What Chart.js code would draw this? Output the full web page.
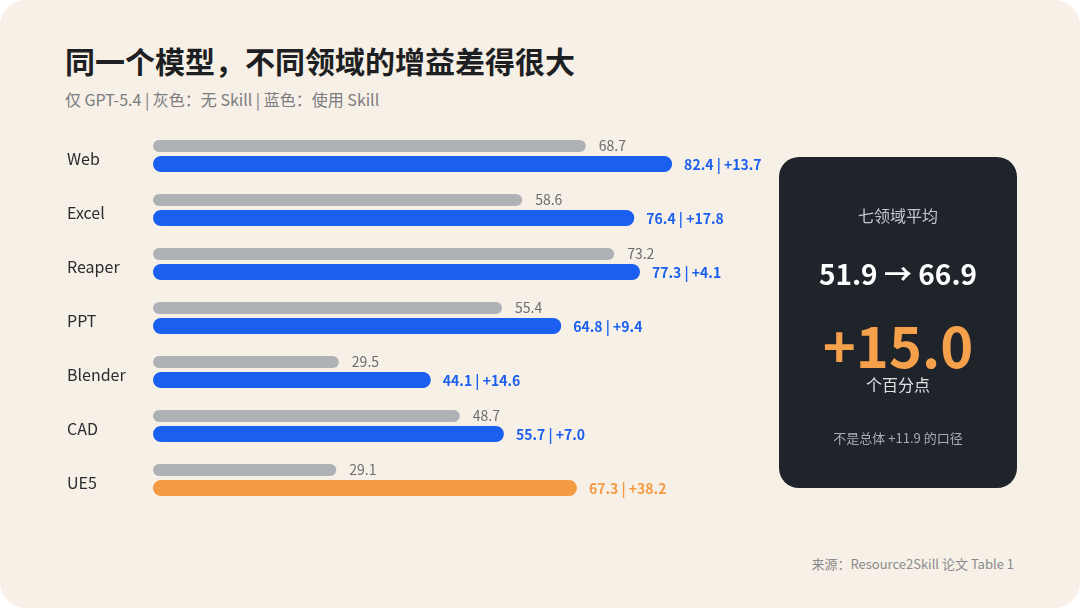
<!DOCTYPE html>
<html lang="zh">
<head>
<meta charset="UTF-8" />
<title>同一个模型，不同领域的增益差得很大</title>
<script src="https://cdn.jsdelivr.net/npm/chart.js"></script>
<style>
  html, body { margin: 0; padding: 0; background: #ffffff; }
  body { width: 1080px; height: 608px; overflow: hidden; font-family: "Noto Sans CJK SC", "Noto Sans", sans-serif; }
  .card { position: absolute; left: 0; top: 0; width: 1080px; height: 608px; background: #f7f0e6; border-radius: 26px; }
  h1 { position: absolute; left: 65px; top: 38px; margin: 0; font-size: 30px; font-weight: 700; color: #1d1f23; }
  .sub { position: absolute; left: 65px; top: 87px; font-size: 16px; color: #7a7c80; }
  #wrap { position: absolute; left: 0; top: 128px; width: 790px; height: 378px; }
  .panel { position: absolute; left: 779px; top: 157px; width: 238px; height: 331px; background: #1f232a; border-radius: 20px; text-align: center; color: #fff; }
  .panel div { position: absolute; left: 0; width: 100%; }
  .p1 { top: 46px; font-size: 16px; color: #c3c6cc; }
  .p2 { top: 96px; font-size: 28px; font-weight: 700; }
  .p3 { top: 146px; font-size: 56px; font-weight: 700; color: #f5a04a; }
  .p4 { top: 215px; font-size: 16px; color: #dfe1e5; }
  .p5 { top: 271px; font-size: 13px; color: #a9acb2; }
  .src { position: absolute; right: 66px; top: 554px; font-size: 13px; color: #8a8b8e; }
</style>
</head>
<body>
<div class="card"></div>
<h1>同一个模型，不同领域的增益差得很大</h1>
<div class="sub">仅 GPT-5.4 | 灰色：无 Skill | 蓝色：使用 Skill</div>
<div id="wrap"><canvas id="bars"></canvas></div>
<div class="panel">
  <div class="p1">七领域平均</div>
  <div class="p2">51.9 → 66.9</div>
  <div class="p3">+15.0</div>
  <div class="p4">个百分点</div>
  <div class="p5">不是总体 +11.9 的口径</div>
</div>
<div class="src">来源：Resource2Skill 论文 Table 1</div>
<script>
const categories = ["Web", "Excel", "Reaper", "PPT", "Blender", "CAD", "UE5"];
const noSkill = [68.7, 58.6, 73.2, 55.4, 29.5, 48.7, 29.1];
const withSkill = [82.4, 76.4, 77.3, 64.8, 44.1, 55.7, 67.3];
const gains = ["+13.7", "+17.8", "+4.1", "+9.4", "+14.6", "+7.0", "+38.2"];

const BLUE = "#1b5ff0";
const ORANGE = "#f59a44";
const skillColors = categories.map((c) => (c === "UE5" ? ORANGE : BLUE));

const labelPlugin = {
  id: "labels",
  afterDatasetsDraw(chart) {
    const ctx = chart.ctx;
    ctx.save();
    ctx.textBaseline = "middle";
    const gray = chart.getDatasetMeta(0).data;
    const skill = chart.getDatasetMeta(1).data;
    const yScale = chart.scales.y;
    categories.forEach((c, i) => {
      ctx.font = "16px 'Noto Sans CJK SC', 'Noto Sans', sans-serif";
      ctx.fillStyle = "#2a2c30";
      ctx.textAlign = "left";
      ctx.fillText(c, 67, yScale.getPixelForValue(i) + 4);

      ctx.font = "14px 'Noto Sans CJK SC', 'Noto Sans', sans-serif";
      ctx.fillStyle = "#6b6d71";
      ctx.fillText(noSkill[i].toFixed(1), gray[i].x + 13, gray[i].y);

      ctx.font = "bold 14px 'Noto Sans CJK SC', 'Noto Sans', sans-serif";
      ctx.fillStyle = skillColors[i];
      ctx.fillText(withSkill[i].toFixed(1) + " | " + gains[i], skill[i].x + 12, skill[i].y + 1);
    });
    ctx.restore();
  },
};

new Chart(document.getElementById("bars").getContext("2d"), {
  type: "bar",
  data: {
    labels: categories,
    datasets: [
      { data: noSkill, backgroundColor: "#aeb1b5", barPercentage: 0.667, categoryPercentage: 0.667, borderRadius: 8, borderSkipped: false },
      { data: withSkill, backgroundColor: skillColors, barPercentage: 0.89, categoryPercentage: 0.667, borderRadius: 9, borderSkipped: false },
    ],
  },
  options: {
    indexAxis: "y",
    responsive: true,
    maintainAspectRatio: false,
    animation: false,
    layout: { padding: { left: 153, right: 7, top: 0, bottom: 0 } },
    plugins: { legend: { display: false }, tooltip: { enabled: false } },
    scales: {
      x: { min: 0, max: 100, display: false },
      y: { display: false },
    },
  },
  plugins: [labelPlugin],
});
</script>
</body>
</html>
